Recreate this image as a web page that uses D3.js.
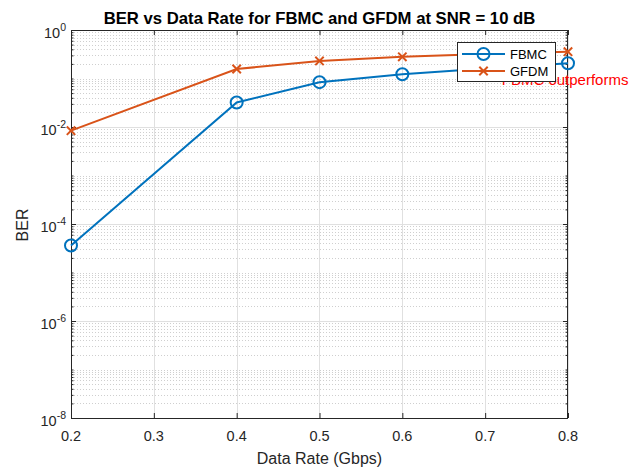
<!DOCTYPE html>
<html>
<head>
<meta charset="utf-8">
<script src="https://cdn.jsdelivr.net/npm/d3@7"></script>
<style>
  html, body { margin: 0; padding: 0; background: #fff; }
  svg { display: block; font-family: "Liberation Sans", Arial, Helvetica, sans-serif; }
</style>
</head>
<body>
<svg id="chart" width="637" height="468"></svg>
<script>
// ---- data ----
const dataRates = [0.2, 0.4, 0.5, 0.6, 0.7, 0.8];
const berFBMC  = [3.6e-5, 0.032, 0.084, 0.122, 0.16, 0.206];
const berGFDM  = [0.0084, 0.157, 0.23, 0.28, 0.32, 0.357];
const seriesNames = ["FBMC", "GFDM"];
const xTickValues = [0.2, 0.3, 0.4, 0.5, 0.6, 0.7, 0.8];
const yLabelExponents = [0, -2, -4, -6, -8];
const titleText = "BER vs Data Rate for FBMC and GFDM at SNR = 10 dB";
const xLabelText = "Data Rate (Gbps)";
const yLabelText = "BER";
const annotationText = "FBMC outperforms";
const annotationPos = [0.72, 0.1];

// ---- layout ----
const W = 637, H = 468;
const margin = {left: 71, top: 30, right: 69, bottom: 50};
const x = d3.scaleLinear().domain([0.2, 0.8]).range([margin.left, W - margin.right]);
const y = d3.scaleLog().domain([1e-8, 1]).range([H - margin.bottom, margin.top]);
const colors = ["#0072BD", "#D95319"];
const axisColor = "#262626";

const svg = d3.select("#chart");
svg.append("rect").attr("width", W).attr("height", H).attr("fill", "#fff");

const x0 = x.range()[0], x1 = x.range()[1];
const yb = y.range()[0], yt = y.range()[1];

// minor + major y values
const decades = d3.range(-8, 1);
const minorY = [];
decades.slice(0, -1).forEach(e => { for (let k = 2; k <= 9; k++) minorY.push(k * Math.pow(10, e)); });
const oddDecades = decades.filter(e => !yLabelExponents.includes(e)).map(e => Math.pow(10, e));
const majorY = yLabelExponents.map(e => Math.pow(10, e));

const grid = svg.append("g");
// minor grid (dotted)
grid.selectAll("line.minor").data(minorY.concat(oddDecades)).join("line")
  .attr("x1", x0).attr("x2", x1)
  .attr("y1", d => Math.round(y(d)) + 0.5).attr("y2", d => Math.round(y(d)) + 0.5)
  .attr("stroke", "#cfcfcf").attr("stroke-width", 1).attr("stroke-dasharray", "1,2");
// major grid
grid.selectAll("line.majy").data(majorY).join("line")
  .attr("x1", x0).attr("x2", x1)
  .attr("y1", d => Math.round(y(d)) + 0.5).attr("y2", d => Math.round(y(d)) + 0.5)
  .attr("stroke", "#e0e0e0").attr("stroke-width", 1);
grid.selectAll("line.majx").data(xTickValues).join("line")
  .attr("x1", d => Math.round(x(d)) + 0.5).attr("x2", d => Math.round(x(d)) + 0.5)
  .attr("y1", yt).attr("y2", yb)
  .attr("stroke", "#e0e0e0").attr("stroke-width", 1);

// axes with d3 axis generators (ticks inward)
const fmt = () => "";
svg.append("g").attr("transform", `translate(0,${yb})`)
  .call(d3.axisBottom(x).tickValues(xTickValues).tickSizeInner(-5).tickSizeOuter(0).tickFormat(fmt))
  .call(g => { g.select(".domain").remove(); g.selectAll("line").attr("stroke", axisColor); });
svg.append("g").attr("transform", `translate(0,${yt})`)
  .call(d3.axisTop(x).tickValues(xTickValues).tickSizeInner(-5).tickSizeOuter(0).tickFormat(fmt))
  .call(g => { g.select(".domain").remove(); g.selectAll("line").attr("stroke", axisColor); });
[[d3.axisLeft, x0], [d3.axisRight, x1]].forEach(([ax, px]) => {
  svg.append("g").attr("transform", `translate(${px},0)`)
    .call(ax(y).tickValues(majorY).tickSizeInner(-5).tickSizeOuter(0).tickFormat(fmt))
    .call(g => { g.select(".domain").remove(); g.selectAll("line").attr("stroke", axisColor); });
  svg.append("g").attr("transform", `translate(${px},0)`)
    .call(ax(y).tickValues(minorY.concat(oddDecades)).tickSizeInner(-2.5).tickSizeOuter(0).tickFormat(fmt))
    .call(g => { g.select(".domain").remove(); g.selectAll("line").attr("stroke", axisColor); });
});

// box
svg.append("rect").attr("x", x0 + 0.5).attr("y", yt + 0.5)
  .attr("width", x1 - x0 - 1).attr("height", yb - yt)
  .attr("fill", "none").attr("stroke", axisColor).attr("stroke-width", 1);

// tick labels
svg.append("g").selectAll("text").data(xTickValues).join("text")
  .attr("x", d => x(d)).attr("y", yb + 23)
  .attr("text-anchor", "middle").attr("font-size", 14.5).attr("fill", axisColor)
  .text(d => d3.format(".1f")(d));
const yl = svg.append("g").selectAll("text").data(yLabelExponents).join("text")
  .attr("x", x0 - 5).attr("y", d => y(Math.pow(10, d)) + 8)
  .attr("text-anchor", "end").attr("font-size", 14.5).attr("fill", axisColor);
yl.append("tspan").text("10");
yl.append("tspan").attr("dy", -7).attr("font-size", 10.5).text(d => d === 0 ? "0" : "-" + Math.abs(d));

// axis labels & title
svg.append("text").attr("x", (x0 + x1) / 2).attr("y", 464)
  .attr("text-anchor", "middle").attr("font-size", 16).attr("fill", axisColor).text(xLabelText);
svg.append("text").attr("transform", `translate(28,225) rotate(-90)`)
  .attr("text-anchor", "middle").attr("font-size", 16).attr("fill", axisColor).text(yLabelText);
svg.append("text").attr("x", (x0 + x1) / 2).attr("y", 24)
  .attr("text-anchor", "middle").attr("font-size", 16.7).attr("font-weight", "bold").attr("fill", "#000").text(titleText);

// annotation
svg.append("text").attr("x", x(annotationPos[0])).attr("y", y(annotationPos[1]) + 6)
  .attr("font-size", 15).attr("fill", "#ff0000").text(annotationText);

// series
const line = d3.line().x(d => x(d[0])).y(d => y(d[1]));
const series = [berFBMC, berGFDM].map(vals => dataRates.map((r, i) => [r, vals[i]]));
series.forEach((pts, si) => {
  svg.append("path").datum(pts).attr("d", line)
    .attr("fill", "none").attr("stroke", colors[si]).attr("stroke-width", 2);
});
// FBMC circles
svg.append("g").selectAll("circle").data(series[0]).join("circle")
  .attr("cx", d => x(d[0])).attr("cy", d => y(d[1])).attr("r", 6)
  .attr("fill", "none").attr("stroke", colors[0]).attr("stroke-width", 2);
// GFDM crosses
const cross = (cx, cy, s) => `M${cx - s},${cy - s}L${cx + s},${cy + s}M${cx - s},${cy + s}L${cx + s},${cy - s}`;
svg.append("g").selectAll("path").data(series[1]).join("path")
  .attr("d", d => cross(x(d[0]), y(d[1]), 4.2))
  .attr("stroke", colors[1]).attr("stroke-width", 2).attr("fill", "none");

// legend
const lg = svg.append("g");
lg.append("rect").attr("x", 457.5).attr("y", 42.5).attr("width", 98).attr("height", 39)
  .attr("fill", "#fff").attr("stroke", axisColor).attr("stroke-width", 1);
seriesNames.forEach((name, i) => {
  const cy = 54 + i * 17;
  lg.append("line").attr("x1", 462).attr("x2", 505).attr("y1", cy).attr("y2", cy)
    .attr("stroke", colors[i]).attr("stroke-width", 2);
  if (i === 0) {
    lg.append("circle").attr("cx", 483.5).attr("cy", cy).attr("r", 6)
      .attr("fill", "none").attr("stroke", colors[i]).attr("stroke-width", 2);
  } else {
    lg.append("path").attr("d", cross(483.5, cy, 4.2)).attr("stroke", colors[i]).attr("stroke-width", 2);
  }
  lg.append("text").attr("x", 510).attr("y", cy + 4.5).attr("font-size", 13).attr("fill", "#000").text(name);
});
</script>
</body>
</html>
